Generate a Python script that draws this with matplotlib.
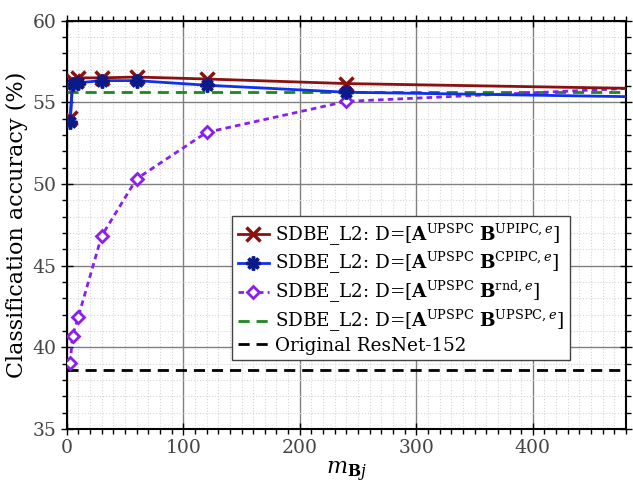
import matplotlib
matplotlib.use("Agg")
import matplotlib.pyplot as plt
from matplotlib.ticker import MultipleLocator

plt.rcParams['font.family'] = ['DejaVu Serif']
plt.rcParams['mathtext.fontset'] = 'dejavuserif'

# number of B atoms per class
m_bj = [3, 5, 10, 30, 60, 120, 240, 480]

acc_upipc = [54.05, 56.3, 56.5, 56.5, 56.55, 56.43, 56.15, 55.86]
acc_cpipc = [53.8, 56.12, 56.2, 56.33, 56.33, 56.05, 55.62, 55.35]
acc_rnd = [39.05, 40.7, 41.88, 46.82, 50.32, 53.16, 55.06, 55.85]
acc_upspc = 55.63
acc_resnet = 38.6

labels = [
    r'SDBE_L2: D=[$\mathbf{A}^{\mathrm{UPSPC}}\ \mathbf{B}^{\mathrm{UPIPC},e}$]',
    r'SDBE_L2: D=[$\mathbf{A}^{\mathrm{UPSPC}}\ \mathbf{B}^{\mathrm{CPIPC},e}$]',
    r'SDBE_L2: D=[$\mathbf{A}^{\mathrm{UPSPC}}\ \mathbf{B}^{\mathrm{rnd},e}$]',
    r'SDBE_L2: D=[$\mathbf{A}^{\mathrm{UPSPC}}\ \mathbf{B}^{\mathrm{UPSPC},e}$]',
    'Original ResNet-152',
]

# the last point sits on the right border, no marker there
marks = slice(0, len(m_bj) - 1)

fig = plt.figure(figsize=(6.33, 4.93), dpi=100)
ax = fig.add_axes([0.1054, 0.130, 0.8836, 0.828])

ax.plot(m_bj, acc_upipc, color='#8b1010', lw=2, marker='x', ms=10, mew=2.5,
        markevery=marks, label=labels[0], zorder=5)
ax.plot(m_bj, acc_cpipc, color='#1030f0', lw=2, marker=(8, 2, 0), ms=10, mew=2.5,
        mec='#0a1a8a', markevery=marks, label=labels[1], zorder=6)
ax.plot(m_bj, acc_rnd, color='#8a1ef0', lw=2, ls=(0, (2, 1.5)), marker='D', ms=6,
        mew=2, mfc='white', mec='#8a1ef0', markevery=marks, label=labels[2], zorder=4)
ax.axhline(acc_upspc, color='#1a8a1a', lw=2, ls=(0, (4, 2.5)), label=labels[3], zorder=3)
ax.axhline(acc_resnet, color='black', lw=2, ls=(0, (4, 2.5)), label=labels[4], zorder=3)

ax.set_xlim(0, 480)
ax.set_ylim(35, 60)
ax.xaxis.set_major_locator(MultipleLocator(100))
ax.xaxis.set_minor_locator(MultipleLocator(10))
ax.yaxis.set_major_locator(MultipleLocator(5))
ax.yaxis.set_minor_locator(MultipleLocator(1))

ax.grid(which='major', color='#808080', lw=1, ls='-')
ax.grid(which='minor', color='#d6d6d6', lw=0.8, ls=':')
ax.set_axisbelow(True)

ax.tick_params(which='major', direction='inout', length=8, width=1,
               labelsize=13.5, labelcolor='#444444', top=True, right=True)
ax.tick_params(which='minor', direction='out', length=3.5, width=1,
               top=True, right=True)
for s in ax.spines.values():
    s.set_linewidth(1.5)

ax.set_xlabel(r'$m_{\mathbf{B}j}$', fontsize=16, labelpad=2)
ax.set_ylabel('Classification accuracy (%)', fontsize=16, labelpad=3)

leg = ax.legend(loc='upper left', bbox_to_anchor=(0.2956, 0.5217), borderaxespad=0,
                fontsize=13.2, handlelength=1.7, handletextpad=0.35, labelspacing=0.15,
                fancybox=False, framealpha=1, edgecolor='#444444', borderpad=0.3)
leg.get_frame().set_linewidth(1)

fig.savefig('out.png', dpi=100)
